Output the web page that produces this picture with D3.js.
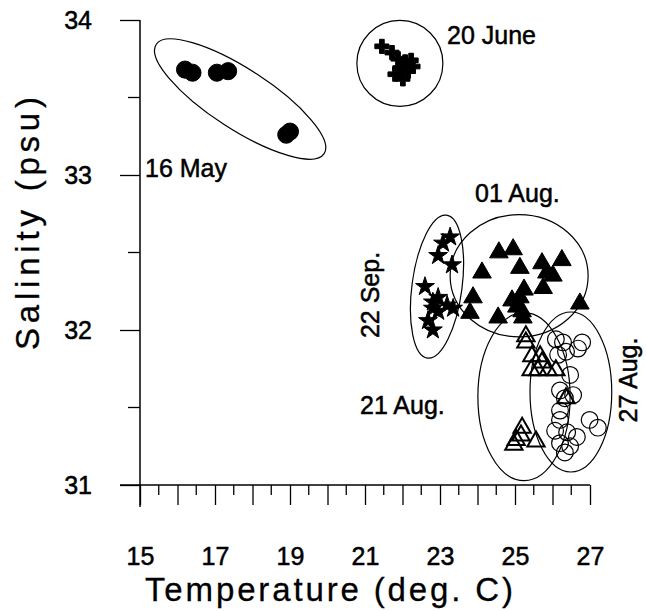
<!DOCTYPE html>
<html>
<head>
<meta charset="utf-8">
<script src="https://cdn.jsdelivr.net/npm/d3@7"></script>
<style>
  body { margin: 0; background: #fff; }
  text { font-family: Arial, "Liberation Sans", sans-serif; fill: #000; stroke: #000; stroke-width: 0.5px; }
  text.title { stroke-width: 0.3px; }
</style>
</head>
<body>
<div id="chart"></div>
<script>
// ---------------- data (temperature degC, salinity psu) ----------------
const may16 = [[16.2, 33.68], [16.4, 33.66], [17.05, 33.66], [17.35, 33.67], [19.0, 33.28], [18.9, 33.26]];
const june20 = [[21.45, 33.83], [21.72, 33.79], [21.88, 33.75], [22.07, 33.73], [22.23, 33.74],
  [21.93, 33.69], [22.15, 33.67], [21.8, 33.65], [22.01, 33.62], [22.28, 33.7]];
const aug01 = [[24.57, 32.5], [24.95, 32.52], [24.12, 32.37], [25.13, 32.4], [25.72, 32.43], [26.25, 32.45],
  [25.85, 32.37], [26.01, 32.35], [25.75, 32.27], [25.24, 32.26], [24.92, 32.19], [25.13, 32.21],
  [23.88, 32.21], [26.73, 32.17], [23.8, 32.11], [24.55, 32.08], [25.21, 32.08], [25.05, 32.15], [25.19, 32.12]];
const aug21 = [[25.29, 31.96], [25.29, 31.92], [25.45, 31.83], [25.67, 31.83], [25.43, 31.74], [25.61, 31.74],
  [25.88, 31.74], [26.09, 31.74], [25.72, 31.79], [26.36, 31.56], [25.19, 31.37], [25.16, 31.32],
  [24.97, 31.26], [25.56, 31.28], [25.03, 31.29]];
const aug27 = [[26.09, 31.94], [26.28, 31.92], [26.79, 31.92], [26.36, 31.86], [26.15, 31.84], [26.68, 31.88],
  [26.47, 31.71], [26.2, 31.61], [26.33, 31.56], [26.55, 31.58], [26.2, 31.48], [26.99, 31.42],
  [27.21, 31.37], [26.07, 31.35], [26.39, 31.34], [26.65, 31.31], [26.2, 31.27], [26.47, 31.25],
  [26.33, 31.21], [26.2, 31.42]];
const sep22 = [[23.27, 32.6], [23.08, 32.56], [22.95, 32.48], [23.32, 32.42], [22.6, 32.28], [22.95, 32.21],
  [22.81, 32.18], [23.19, 32.16], [23.35, 32.14], [22.81, 32.14], [22.68, 32.06], [22.81, 32.0], [22.95, 32.12]];

// envelope ellipses: centre (degC, psu), half widths (degC, psu), tilt
const envelopes = [
  { cx: 17.67, cy: 33.49, rx: 2.67, ry: 0.194, tilt: 33 },
  { cx: 21.93, cy: 33.72, rx: 1.147, ry: 0.277, tilt: 0 },
  { cx: 25.11, cy: 32.35, rx: 1.84, ry: 0.394, tilt: 0 },
  { cx: 25.24, cy: 31.57, rx: 1.23, ry: 0.542, tilt: 0 },
  { cx: 26.49, cy: 31.6, rx: 1.09, ry: 0.516, tilt: 0 },
  { cx: 22.92, cy: 32.28, rx: 0.667, ry: 0.465, tilt: 7.6 }
];

const xTicks = [15, 16, 17, 18, 19, 20, 21, 22, 23, 24, 25, 26, 27];
const xLabels = [15, 17, 19, 21, 23, 25, 27];
const yTicks = [31, 32, 33, 34];

// ---------------- layout ----------------
const W = 646, H = 611;
const svg = d3.select("#chart").append("svg").attr("width", W).attr("height", H);

const x = d3.scaleLinear().domain([15, 27]).range([140, 590]);
const y = d3.scaleLinear().domain([31, 34]).range([485, 20]);

const pxX = v => x(15 + v) - x(15);
const pxY = v => y(31) - y(31 + v);

// axes
const yAxis = d3.axisLeft(y).tickValues(yTicks).tickSize(20).tickFormat(d3.format("d")).tickPadding(28);
const gy = svg.append("g").attr("transform", `translate(${x(15)},0)`).call(yAxis);
gy.select(".domain").remove();
gy.selectAll("text").style("font-size", "25px").attr("fill", "#000");
gy.selectAll("line").attr("stroke", "#000").attr("stroke-width", 1.3);
svg.append("line").attr("x1", x(15)).attr("x2", x(15)).attr("y1", y(34)).attr("y2", y(31) + 22)
  .attr("stroke", "#000").attr("stroke-width", 1.5);
svg.selectAll(".yminor").data([31.5, 32.5, 33.5]).join("line")
  .attr("x1", x(15) - 12).attr("x2", x(15)).attr("y1", d => y(d)).attr("y2", d => y(d))
  .attr("stroke", "#000").attr("stroke-width", 1.3);

const xAxis = d3.axisBottom(x).tickValues(xTicks).tickSize(20)
  .tickFormat(d => xLabels.includes(d) ? d : "").tickPadding(42);
const gx = svg.append("g").attr("transform", `translate(0,${y(31)})`).call(xAxis);
gx.select(".domain").remove();
gx.selectAll("text").style("font-size", "25px").attr("fill", "#000");
gx.selectAll("line").attr("stroke", "#000").attr("stroke-width", 1.3);
svg.append("line").attr("x1", x(15) - 20).attr("x2", x(27)).attr("y1", y(31)).attr("y2", y(31))
  .attr("stroke", "#000").attr("stroke-width", 1.5);
svg.selectAll(".xminor").data(d3.range(15.5, 27, 1)).join("line")
  .attr("x1", d => x(d)).attr("x2", d => x(d)).attr("y1", y(31)).attr("y2", y(31) + 10)
  .attr("stroke", "#000").attr("stroke-width", 1.3);

// axis titles
svg.append("text").attr("class", "title").attr("x", 145).attr("y", 601)
  .attr("textLength", 368).attr("lengthAdjust", "spacing")
  .style("font-size", "33px").text("Temperature (deg. C)");
svg.append("text").attr("class", "title").attr("transform", "translate(39,350) rotate(-90)")
  .attr("textLength", 253).attr("lengthAdjust", "spacing")
  .style("font-size", "33px").text("Salinity (psu)");

// envelopes
svg.selectAll(".env").data(envelopes).join("ellipse")
  .attr("transform", d => `translate(${x(d.cx)},${y(d.cy)}) rotate(${d.tilt})`)
  .attr("rx", d => pxX(d.rx)).attr("ry", d => pxY(d.ry))
  .attr("fill", "none").attr("stroke", "#000").attr("stroke-width", 1.2);

// markers
function plot(data, symbol, size, fill, stroke, sw) {
  svg.append("g").selectAll("path").data(data).join("path")
    .attr("transform", d => `translate(${x(d[0])},${y(d[1])})`)
    .attr("d", d3.symbol().type(symbol).size(size))
    .attr("fill", fill).attr("stroke", stroke).attr("stroke-width", sw);
}
plot(may16, d3.symbolCircle, 230, "#000", "#000", 1);
plot(june20, d3.symbolCross, 110, "#000", "#000", 1);
plot(aug01, d3.symbolTriangle, 150, "#000", "#000", 1);
plot(sep22, d3.symbolStar, 110, "#000", "#000", 1);
plot(aug21, d3.symbolTriangle, 130, "none", "#000", 2);
plot(aug27, d3.symbolCircle, 220, "none", "#000", 1.2);

// group labels
const lab = (t, tx, ty, rot) => svg.append("text")
  .attr("transform", `translate(${tx},${ty})` + (rot ? ` rotate(${rot})` : ""))
  .attr("text-anchor", rot ? "middle" : "start").style("font-size", "25px").text(t);
lab("16 May", 145, 177);
lab("20 June", 447, 44);
lab("01 Aug.", 475, 202);
lab("21 Aug.", 360, 414);
lab("22 Sep.", 379, 295, -90);
lab("27 Aug.", 637, 380, -90);
</script>
</body>
</html>
